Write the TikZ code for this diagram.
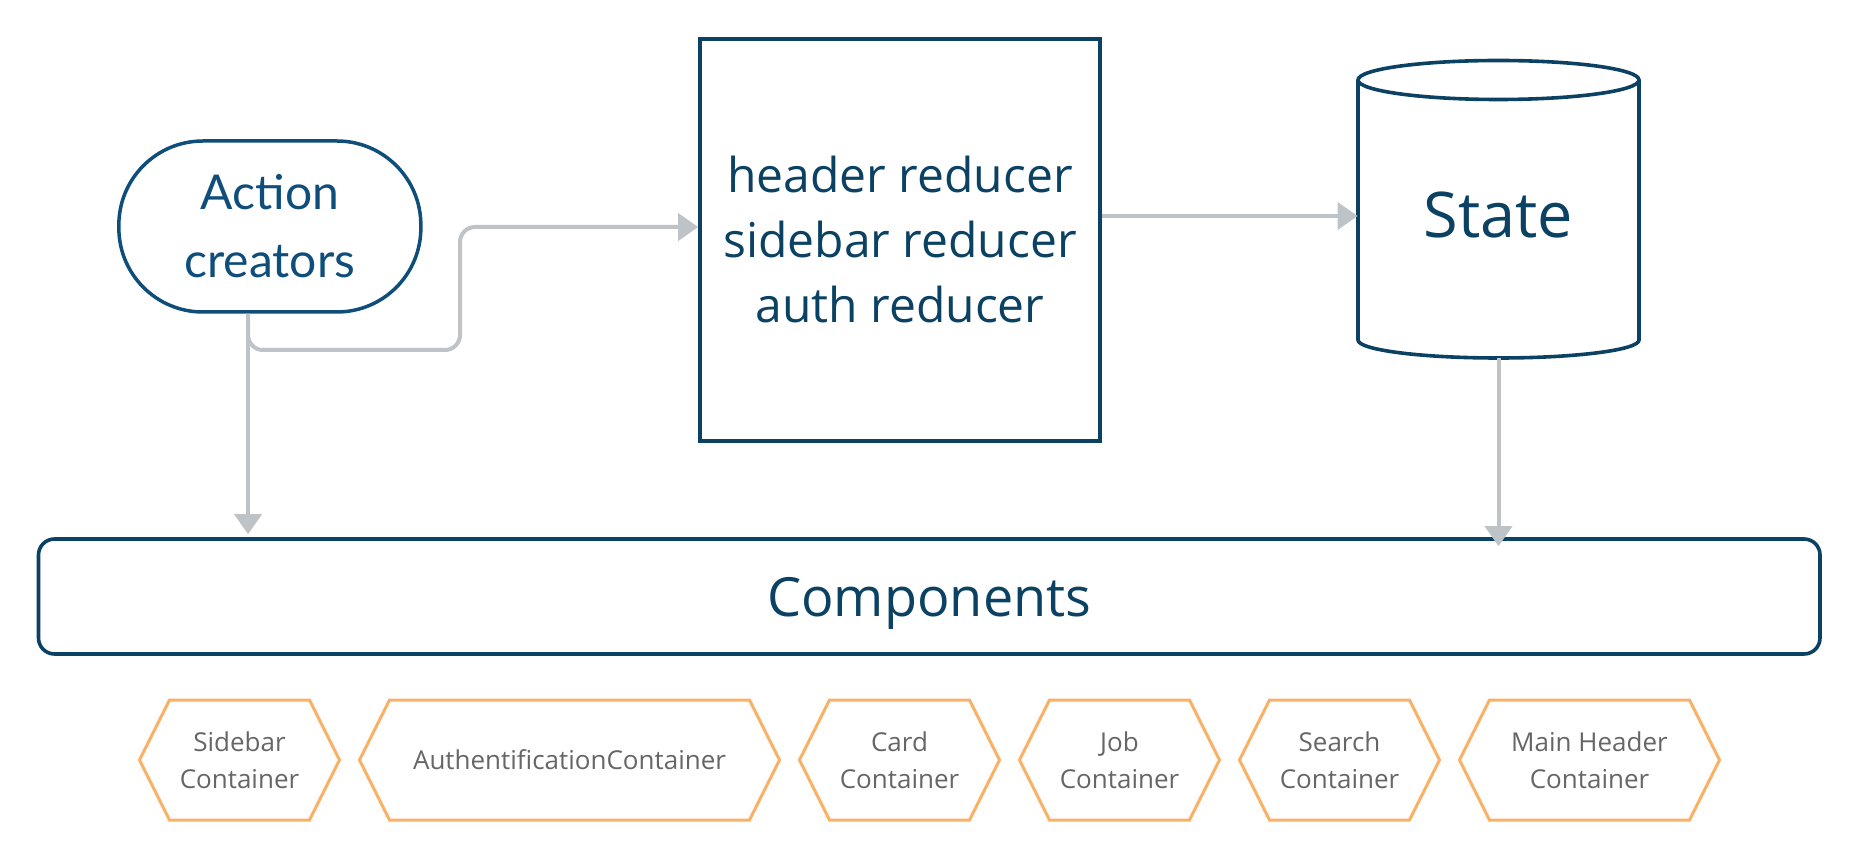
\documentclass[tikz,border=0pt]{standalone}
\usepackage{fontspec}
\setmainfont{Open Sans}
\newfontfamily\latofont{Lato}
\usetikzlibrary{arrows.meta}
\definecolor{navy}{HTML}{0B4263}
\definecolor{acblue}{HTML}{0F4E7B}
\definecolor{conngray}{HTML}{BDC3C7}
\definecolor{hexorange}{HTML}{F9B166}
\definecolor{hexgray}{HTML}{666666}
\tikzset{
  navyline/.style={draw=navy, line width=1.8pt},
  acbox/.style={draw=acblue, line width=1.75pt, rounded corners=42pt, minimum width=151pt, minimum height=85.5pt, inner sep=0pt, align=center, text=acblue, font=\latofont\fontsize{24}{34}\selectfont},
  redbox/.style={navyline, minimum width=200pt, minimum height=201pt, inner sep=0pt, align=center, text=navy, font=\fontsize{24}{32.5}\selectfont},
  statebox/.style={minimum width=140.5pt, minimum height=143pt, inner sep=0pt, text=navy, font=\fontsize{31.5}{36}\selectfont},
  compbox/.style={navyline, rounded corners=8pt, minimum width=890.75pt, minimum height=57.5pt, inner sep=0pt, text depth=0pt, text=navy, font=\fontsize{27}{32}\selectfont},
  hexnode/.style={minimum height=60pt, inner sep=0pt, outer sep=0pt, align=center, text=hexgray, font=\fontsize{13}{18.5}\selectfont},
  hexline/.style={draw=hexorange, line width=1.5pt, line join=miter},
  conn/.style={draw=conngray, line width=2pt, -{Triangle[length=10pt, width=13.5pt]}}
}
\begin{document}
\begin{tikzpicture}[x=0.5pt, y=-0.5pt]
\useasboundingbox (0,0) rectangle (1861,860);

% main nodes
\node[acbox] (ac) at (269.85,226.5) {Action\\creators};
\node[redbox] (red) at (900,240) {header reducer\\sidebar reducer\\auth reducer};
\node[statebox] (st) at (1498.5,215) {State};
\node[compbox] (comp) at (929.25,596.5) {Components};

% cylinder outline for State
\draw[navyline] (1498.5,80) ellipse [x radius=140.5, y radius=19.5];
\draw[navyline] (1358,80) -- (1358,340) arc[start angle=180, end angle=0, x radius=140.5, y radius=18] -- (1639,80);

% containers
\node[hexnode, minimum width=100pt] (h1) at (239.5,760) {Sidebar\\Container};
\node[hexnode, minimum width=210pt] (h2) at (569.5,760) {AuthentificationContainer};
\node[hexnode, minimum width=100pt] (h3) at (899.5,760) {Card\\Container};
\node[hexnode, minimum width=100pt] (h4) at (1119.5,760) {Job\\Container};
\node[hexnode, minimum width=100pt] (h5) at (1339.5,760) {Search\\Container};
\node[hexnode, minimum width=130pt] (h6) at (1589.5,760) {Main Header\\Container};
\foreach \n in {h1,h2,h3,h4,h5,h6}{
  \draw[hexline] (\n.west) -- ([xshift=15pt]\n.north west) -- ([xshift=-15pt]\n.north east) -- (\n.east) -- ([xshift=-15pt]\n.south east) -- ([xshift=15pt]\n.south west) -- cycle;
}

% connectors
\coordinate (acout) at ([xshift=-10.9pt]ac.south);
\draw[conn] (acout) -- ([yshift=1.5pt]acout |- comp.north);
\draw[conn, rounded corners=7.5pt] (acout) -- (acout |- 0,350) -- (460,350) -- (460,227) -- (red.west |- 0,227);
\draw[conn] (red.east |- 0,216) -- (st.west |- 0,216);
\draw[conn] (st.south) -- ([yshift=-4.5pt]st.south |- comp.north);
\end{tikzpicture}
\end{document}
